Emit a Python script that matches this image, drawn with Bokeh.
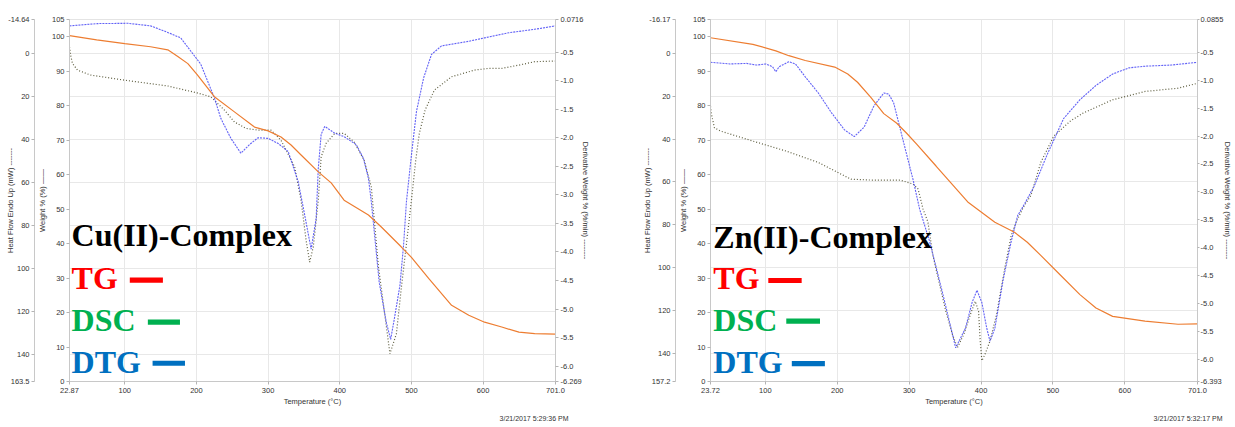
import math
from bokeh.plotting import figure
from bokeh.models import Range1d, LinearAxis, FixedTicker, Label, Grid, BoxAnnotation, Title
from bokeh.layouts import row
from bokeh.embed import file_html
from bokeh.resources import INLINE

# ---------------- Cu(II) complex (left panel) ----------------
cu_x_ticks = [22.87, 100, 200, 300, 400, 500, 600, 701]
cu_x_labels = ["22.87", "100", "200", "300", "400", "500", "600", "701.0"]
cu_hf_ticks = [-15.6, 0, 20, 40, 60, 80, 100, 120, 140, 152.6]
cu_hf_labels = ["-14.64", "0", "20", "40", "60", "80", "100", "120", "140", "163.5"]
cu_dtg_ticks = [-6.269, -6.0, -5.5, -5.0, -4.5, -4.0, -3.5, -3.0, -2.5, -2.0, -1.5, -1.0, -0.5, 0.0716]
cu_dtg_labels = ["-6.269", "-6.0", "-5.5", "-5.0", "-4.5", "-4.0", "-3.5", "-3.0", "-2.5", "-2.0",
                 "-1.5", "-1.0", "-0.5", "0.0716"]

cu_tg_temp = [22.87, 60.8, 100, 136, 160, 174, 188, 201, 225, 253, 281, 300, 318, 332, 346, 370, 388,
              406, 440, 458, 486, 500, 524, 556, 580, 602, 626, 650, 672, 701]
cu_tg_wt = [100.3, 99.1, 98.0, 97.1, 96.2, 94.3, 92.2, 89.0, 82.6, 78.2, 73.8, 72.7, 70.9, 68.6, 65.7,
            60.8, 57.6, 52.6, 48.3, 44.8, 39.0, 36.0, 29.9, 22.1, 19.2, 17.2, 15.8, 14.3, 13.9, 13.75]

cu_dtg_temp = [22.87, 62, 104, 136, 155, 178, 192, 206, 225, 234, 248, 262, 274, 286, 300, 314, 328,
               342, 351, 360, 367, 370, 374, 379, 393, 406, 423, 433, 440, 444, 455, 465, 471, 476,
               484, 489, 493, 500, 507, 517, 528, 542, 580, 602, 636, 672, 701]
cu_dtg_val = [-0.04, 0.0, 0.005, -0.04, -0.13, -0.25, -0.48, -0.71, -1.30, -1.66, -2.01, -2.27, -2.12,
              -2.0, -2.01, -2.10, -2.24, -2.77, -3.35, -3.95, -3.42, -2.54, -1.94, -1.80, -1.92, -1.98,
              -2.12, -2.36, -2.71, -3.12, -4.53, -5.24, -5.53, -5.18, -4.58, -3.88, -3.12, -2.30,
              -1.54, -0.95, -0.54, -0.39, -0.31, -0.25, -0.16, -0.10, -0.04]

cu_dsc_temp = [22.87, 24.4, 27, 34, 52, 100, 160, 201, 220, 239, 253, 269, 286, 304, 318, 337, 346,
               353, 358, 363, 370, 374, 381, 393, 406, 420, 434, 444, 454, 462, 470, 479, 486, 492,
               500, 506, 511, 519, 532, 556, 588, 608, 626, 650, 672, 701]
cu_dsc_hf = [-2.9, 0.9, 4.8, 7.9, 10.2, 12.6, 15.3, 18.5, 20.3, 26.5, 32.0, 35.0, 35.8, 35.8, 40.5,
             52.9, 68.4, 87.0, 97.1, 90.1, 68.4, 48.2, 41.9, 37.3, 37.3, 41.3, 49.8, 62.2, 99.4, 119.5,
             139.7, 130.4, 108.7, 91.6, 68.4, 49.8, 37.3, 26.5, 17.2, 11.0, 7.9, 7.1, 7.1, 5.6, 4.0, 3.7]

# ---------------- Zn(II) complex (right panel) ----------------
zn_x_ticks = [23.72, 100, 200, 300, 400, 500, 600, 701]
zn_x_labels = ["23.72", "100", "200", "300", "400", "500", "600", "701.0"]
zn_hf_ticks = [-15.9, 0, 20, 40, 60, 80, 100, 120, 140, 153.2]
zn_hf_labels = ["-16.17", "0", "20", "40", "60", "80", "100", "120", "140", "157.2"]
zn_dtg_ticks = [-6.393, -6.0, -5.5, -5.0, -4.5, -4.0, -3.5, -3.0, -2.5, -2.0, -1.5, -1.0, -0.5, 0.0855]
zn_dtg_labels = ["-6.393", "-6.0", "-5.5", "-5.0", "-4.5", "-4.0", "-3.5", "-3.0", "-2.5", "-2.0",
                 "-1.5", "-1.0", "-0.5", "0.0855"]

zn_tg_temp = [23.72, 82.7, 114.6, 132.7, 155.5, 196.5, 214.6, 228.2, 246.4, 264.7, 282.8, 296.5,
              310.1, 337.4, 382.4, 419.2, 446.5, 464.3, 483.0, 510.2, 537.5, 559.8, 583.0, 628.0,
              673.9, 701]
zn_tg_wt = [99.7, 97.8, 95.9, 94.5, 93.1, 91.2, 89.2, 86.8, 82.5, 77.7, 74.9, 72.0, 68.9, 62.5, 51.9,
            46.2, 43.3, 40.4, 36.6, 30.9, 25.2, 21.3, 18.9, 17.5, 16.6, 16.7]

zn_dtg_temp = [23.72, 50.9, 73.7, 87.3, 101.0, 110.0, 114.6, 119.1, 132.7, 141.9, 155.5, 173.7, 191.8,
               210.1, 223.7, 237.4, 251.0, 264.7, 271.5, 278.3, 292.0, 305.6, 314.6, 328.3, 346.5,
               364.7, 378.3, 387.5, 394.3, 401.1, 407.9, 412.4, 419.2, 430.6, 442.0, 451.0, 460.2,
               473.8, 492.0, 514.7, 537.5, 560.2, 583.0, 605.7, 628.4, 664.8, 701]
zn_dtg_val = [-0.68, -0.71, -0.70, -0.73, -0.71, -0.76, -0.85, -0.76, -0.67, -0.71, -0.94, -1.23,
              -1.58, -1.89, -2.01, -1.84, -1.46, -1.23, -1.25, -1.40, -2.10, -2.79, -3.31, -3.88,
              -4.81, -5.79, -5.44, -4.98, -4.76, -4.98, -5.44, -5.67, -5.44, -4.58, -3.88, -3.42,
              -3.22, -2.90, -2.33, -1.69, -1.35, -1.09, -0.89, -0.78, -0.75, -0.73, -0.68]

zn_dsc_temp = [23.72, 24.7, 29.2, 38.3, 82.7, 128.2, 173.7, 219.1, 246.4, 287.3, 305.6, 312.4, 319.2,
               326.1, 332.9, 351.0, 360.2, 367.0, 376.0, 385.1, 391.9, 396.5, 398.8, 401.1, 405.6,
               412.4, 421.6, 432.9, 442.0, 448.9, 458.8, 469.3, 483.0, 501.1, 523.9, 542.0, 583.0,
               628.4, 673.9, 701]
zn_dsc_hf = [24.7, 27.8, 34.7, 36.3, 40.9, 45.5, 50.9, 58.7, 59.1, 59.1, 61.0, 63.3, 72.5, 78.7,
             94.1, 120.4, 131.2, 137.4, 131.2, 121.9, 115.7, 120.4, 134.3, 143.5, 140.4, 134.3, 121.9,
             100.3, 84.9, 78.7, 71.8, 66.3, 50.9, 38.6, 31.6, 27.8, 21.6, 17.7, 16.2, 13.9]

wt_ticks = [0, 10, 20, 30, 40, 50, 60, 70, 80, 90, 100, 105]
grid_x = [100, 200, 300, 400, 500, 600]
grid_hf = [0, 20, 40, 60, 80, 100, 120, 140]

ORANGE = "#ED7D31"
BLUE = "#4747F5"
OLIVE = "#5E5E40"
RED = "#FF0000"
GREEN = "#00B050"
LBLUE = "#0070C0"
AXIS_FONT = "Liberation Sans"
FS = "7.5px"
TXT = "#333333"


def style_axis(ax, tick_out=3, label_std=2):
    ax.axis_line_color = "#c8c8c8"
    ax.major_tick_line_color = "#b4b4b4"
    ax.major_tick_out = tick_out
    ax.major_tick_in = 0
    ax.minor_tick_line_color = None
    ax.major_label_text_font = AXIS_FONT
    ax.major_label_text_font_size = FS
    ax.major_label_text_color = TXT
    ax.major_label_standoff = label_std
    ax.axis_label_text_font = AXIS_FONT
    ax.axis_label_text_font_size = FS
    ax.axis_label_text_font_style = "normal"
    ax.axis_label_text_color = TXT


def make_panel(width, b_left, b_right, b_top, x_ticks, x_labels, hf_ticks, hf_labels,
               dtg_ticks, dtg_labels, tg_t, tg_w, dtg_t, dtg_v, dsc_t, dsc_h,
               hf_std, dtg_std, dtg_tick, dtg_lstd, stamp, stamp_offset):
    p = figure(width=width, height=427, output_backend="svg", toolbar_location=None,
               x_range=Range1d(x_ticks[0], x_ticks[-1]), y_range=Range1d(0, 105),
               min_border_left=b_left, min_border_right=b_right, min_border_top=b_top,
               min_border_bottom=46)
    p.outline_line_color = "#e4e4e4"
    p.extra_y_ranges = {
        "hf": Range1d(start=hf_ticks[-1], end=hf_ticks[0]),
        "dtg": Range1d(start=dtg_ticks[0], end=dtg_ticks[-1]),
    }
    # x axis
    xa = p.xaxis[0]
    style_axis(xa, 3, 3)
    xa.ticker = FixedTicker(ticks=x_ticks)
    xa.major_label_overrides = dict(zip(x_ticks, x_labels))
    xa.axis_label = "Temperature (°C)"
    xa.axis_label_standoff = 1
    # weight axis (inner left)
    wa = p.yaxis[0]
    style_axis(wa)
    wa.ticker = FixedTicker(ticks=wt_ticks)
    wa.axis_label = "Weight % (%) \u2014\u2014"
    wa.axis_label_standoff = 2
    # heat flow axis (outer left)
    ha = LinearAxis(y_range_name="hf", ticker=FixedTicker(ticks=hf_ticks))
    style_axis(ha)
    ha.major_label_overrides = dict(zip(hf_ticks, hf_labels))
    ha.axis_label = "Heat Flow Endo Up (mW) -------"
    ha.axis_label_standoff = hf_std
    p.add_layout(ha, "left")
    # derivative weight axis (right)
    da = LinearAxis(y_range_name="dtg", ticker=FixedTicker(ticks=dtg_ticks))
    style_axis(da, dtg_tick, dtg_lstd)
    da.major_label_overrides = dict(zip(dtg_ticks, dtg_labels))
    da.axis_label = "Derivative Weight % (%/min) --------"
    da.axis_label_standoff = dtg_std
    p.add_layout(da, "right")
    # time stamp under the axis title
    p.add_layout(Title(text=stamp, align="right", offset=stamp_offset, standoff=8,
                       text_font=AXIS_FONT, text_font_size="7px", text_font_style="normal",
                       text_color=TXT), "below")
    # grids
    p.xgrid.ticker = FixedTicker(ticks=grid_x)
    p.xgrid.grid_line_color = "#e8e8e8"
    p.ygrid.visible = False
    p.add_layout(Grid(dimension=1, ticker=FixedTicker(ticks=grid_hf), y_range_name="hf",
                      grid_line_color="#e8e8e8"))
    # curves
    p.line(dsc_t, dsc_h, y_range_name="hf", line_color=OLIVE, line_width=1.2, line_dash="1 2")
    p.line(dtg_t, dtg_v, y_range_name="dtg", line_color=BLUE, line_width=1.1, line_dash="2 1",
           line_alpha=0.85)
    p.line(tg_t, tg_w, line_color=ORANGE, line_width=1.2)
    return p


def add_legend(p, title, tx, ty, rows):
    p.add_layout(Label(x=tx, y=ty, text=title, text_font="Liberation Serif", text_font_style="bold",
                       text_font_size="32px", text_color="black", text_baseline="alphabetic"))
    for (txt, col, y, sw_l, sw_r, sw_y) in rows:
        p.add_layout(Label(x=tx, y=y, text=txt, text_font="Liberation Serif", text_font_style="bold",
                           text_font_size="32px", text_color=col, text_baseline="alphabetic"))
        p.add_layout(BoxAnnotation(left=sw_l, right=sw_r, bottom=sw_y - 0.75, top=sw_y + 0.75,
                                   fill_color=col, fill_alpha=1.0, line_color=None))


left = make_panel(615, 69, 60, 19, cu_x_ticks, cu_x_labels, cu_hf_ticks, cu_hf_labels,
                  cu_dtg_ticks, cu_dtg_labels, cu_tg_temp, cu_tg_wt, cu_dtg_temp, cu_dtg_val,
                  cu_dsc_temp, cu_dsc_hf, -10, -5, 3, 2, "3/21/2017 5:29:36 PM", -13)
add_legend(left, "Cu(II)-Complex", 25.8, 42.4, [
    ("TG", RED, 29.9, 107.0, 153.2, 29.4),
    ("DSC", GREEN, 17.7, 132.2, 177.0, 17.2),
    ("DTG", LBLUE, 5.8, 138.8, 184.0, 5.3),
])

right = make_panel(620, 95, 28, 15, zn_x_ticks, zn_x_labels, zn_hf_ticks, zn_hf_labels,
                   zn_dtg_ticks, zn_dtg_labels, zn_tg_temp, zn_tg_wt, zn_dtg_temp, zn_dtg_val,
                   zn_dsc_temp, zn_dsc_hf, -6, -3, 2, 1, "3/21/2017 5:32:17 PM", -25)
add_legend(right, "Zn(II)-Complex", 27.7, 41.9, [
    ("TG", RED, 29.9, 104.1, 150.5, 29.3),
    ("DSC", GREEN, 17.8, 129.1, 176.0, 17.5),
    ("DTG", LBLUE, 5.8, 136.8, 182.8, 5.2),
])

layout = row(left, right)
open("out.html", "w").write(file_html(layout, INLINE))
